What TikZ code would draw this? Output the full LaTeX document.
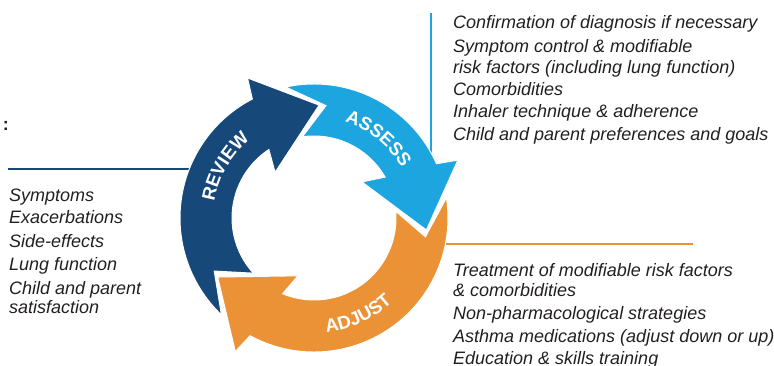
\documentclass[tikz,border=0pt]{standalone}
\usepackage{fontspec}
\setmainfont{Liberation Sans}
\usetikzlibrary{decorations.text}

\definecolor{revblue}{HTML}{16497A}
\definecolor{assblue}{HTML}{1CA5DE}
\definecolor{adjorange}{HTML}{EB9237}
\definecolor{txtgray}{HTML}{231F20}

% one arrow of the cycle: #1 tip angle, #2 tip angle of the arrow before, #3 style
\newcommand{\cyclearrow}[3]{%
  \filldraw[#3] ({#1+30}:134) arc[start angle={#1+30}, end angle={#2+14.8}, radius=134]
    -- ({#2-3.5}:113) -- ({#2+10.8}:82)
    arc[start angle={#2+10.8}, end angle={#1+36}, radius=82]
    -- ({#1+43}:60) -- (#1:113) -- ({#1+28}:155) -- cycle;
}

\begin{document}
\begin{tikzpicture}[x=1pt, y=1pt,
    arr/.style={draw=white, line width=1pt},
    review/.style={arr, fill=revblue},
    assess/.style={arr, fill=assblue},
    adjust/.style={arr, fill=adjorange},
    link/.style={line width=2pt},
    item/.style={font=\fontsize{18}{19}\selectfont\itshape, text=txtgray, anchor=base west, inner sep=0pt},
    cyctext/.style={decorate, decoration={text along path, text align=center, text color=white,
        text={|\fontsize{18.5}{18.5}\selectfont\bfseries|#1}}},
]
\useasboundingbox (0,0) rectangle (774,366);

% Header rest
\node[font=\fontsize{18}{19}\selectfont\bfseries, text=txtgray, anchor=base east, inner sep=0pt] (hdr) at (9,235) {:};

% Lines
\coordinate (revL) at (8,196.5);
\coordinate (revR) at (200,196.5);
\coordinate (assT) at (431,353);
\coordinate (assB) at (431,206);
\coordinate (adjL) at (440,122);
\coordinate (adjR) at (693,122);
\draw[link, revblue] (revL) -- (revR);
\draw[link, assblue] (assT) -- (assB);
\draw[link, adjorange] (adjL) -- (adjR);

% Cycle
\begin{scope}[shift={(314,148)}]
  \cyclearrow{87.4}{211.5}{review}
  \cyclearrow{-6.1}{87.4}{assess}
  \cyclearrow{-148.5}{-6.1}{adjust}
  \path[cyctext=REVIEW] (190:101) arc[start angle=190, end angle=110, radius=101];
  \path[cyctext=ASSESS] (91:101) arc[start angle=91, end angle=11, radius=101];
  \path[cyctext=ADJUST] (254.6:115) arc[start angle=254.6, end angle=334.6, radius=115];
\end{scope}

% Review
\node[item] (rev1) at (9,164) {Symptoms};
\node[item] (rev2) at (9,142) {Exacerbations};
\node[item] (rev3) at (9,118.5) {Side-effects};
\node[item] (rev4) at (9,95) {Lung function};
\node[item] (rev5) at (9,71.5) {Child and parent};
\node[item] (rev6) at (9,52) {satisfaction};

% Assess
\node[item] (ass1) at (453,337) {Confirmation of diagnosis if necessary};
\node[item] (ass2) at (453,313) {Symptom control \& modifiable};
\node[item] (ass3) at (453,292.5) {risk factors (including lung function)};
\node[item] (ass4) at (453,270) {Comorbidities};
\node[item] (ass5) at (453,248) {Inhaler technique \& adherence};
\node[item] (ass6) at (453,225) {Child and parent preferences and goals};

% Adjust
\node[item] (adj1) at (453,89) {Treatment of modifiable risk factors};
\node[item] (adj2) at (453,69.5) {\& comorbidities};
\node[item] (adj3) at (453,46) {Non-pharmacological strategies};
\node[item] (adj4) at (453,23) {Asthma medications (adjust down or up)};
\node[item] (adj5) at (453,1.5) {Education \& skills training};

\end{tikzpicture}
\end{document}
